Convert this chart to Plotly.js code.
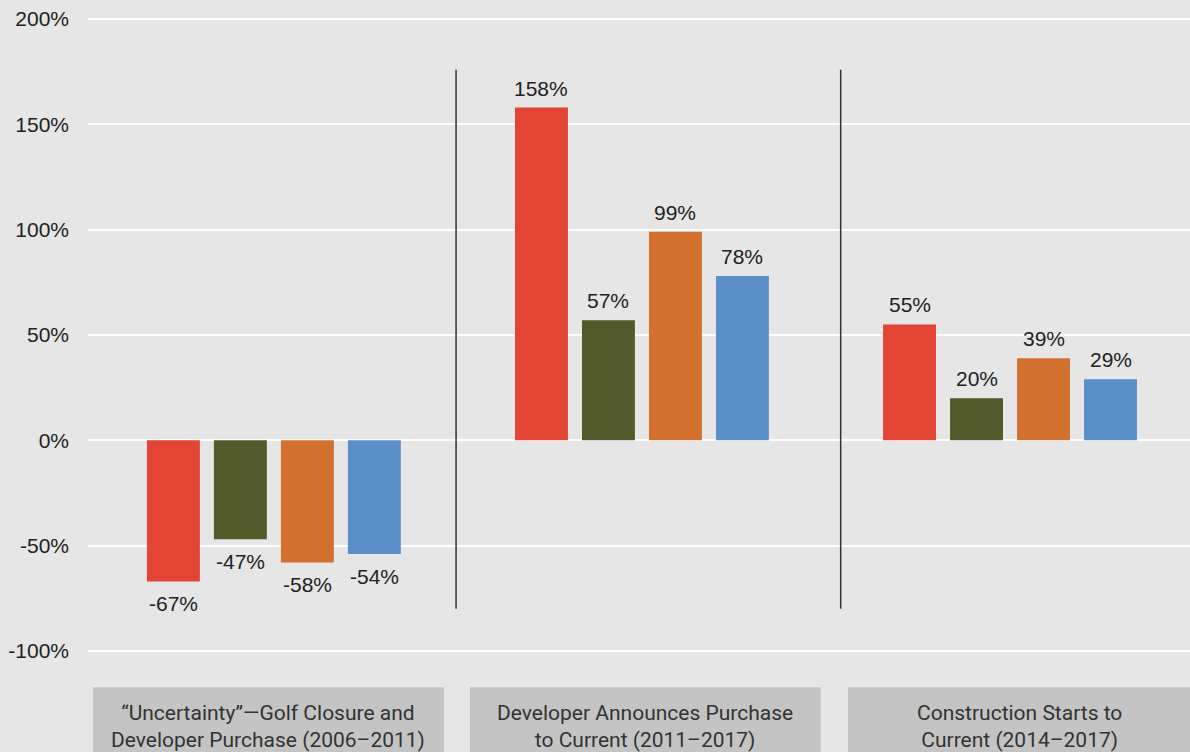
<!DOCTYPE html>
<html>
<head>
<meta charset="utf-8">
<script src="https://cdn.plot.ly/plotly-3.0.1.min.js"></script>
<style>html,body{margin:0;padding:0;background:#e6e6e6;}#chart{width:1190px;height:752px;}</style>
</head>
<body>
<div id="chart"></div>
<script>
const categories = [
  "\u201cUncertainty\u201d\u2014Golf Closure and<br>Developer Purchase (2006\u20132011)",
  "Developer Announces Purchase<br>to Current (2011\u20132017)",
  "Construction Starts to<br>Current (2014\u20132017)"
];
const seriesA = [-67, 158, 55];
const seriesB = [-47, 57, 20];
const seriesC = [-58, 99, 39];
const seriesD = [-54, 78, 29];
const tickVals = [-100, -50, 0, 50, 100, 150, 200];
const tickText = ["-100%", "-50%", "0%", "50%", "100%", "150%", "200%"];

const colors = ["#e34433", "#525a29", "#d2702f", "#5b8fca"];
const allSeries = [seriesA, seriesB, seriesC, seriesD];
const xIdx = categories.map((c, i) => i);
const bargap = 0.272;
const nSeries = allSeries.length;
const slot = (1 - bargap) / nSeries;

const traces = allSeries.map((vals, k) => ({
  type: "bar",
  x: xIdx,
  y: vals,
  marker: {color: colors[k]},
  hoverinfo: "skip",
  showlegend: false
}));

// value labels placed at each bar's position
const labelFont = {family: "Liberation Sans, Arial, sans-serif", size: 21, color: "#222"};
const annotations = [];
allSeries.forEach((vals, k) => {
  vals.forEach((v, i) => {
    annotations.push({
      xref: "x", yref: "y",
      x: i + (k - (nSeries - 1) / 2) * slot, y: v,
      text: v + "%", showarrow: false,
      xanchor: "center", yanchor: v >= 0 ? "bottom" : "top",
      yshift: v >= 0 ? 6 : -9,
      font: labelFont
    });
  });
});

// category boxes (paper coords) and separators
const boxes = [[0.0045, 0.323], [0.3466, 0.665], [0.6897, 1.0]];
const shapes = boxes.map(b => ({
  type: "rect", xref: "paper", yref: "paper",
  x0: b[0], x1: b[1], y0: -0.054, y1: -0.165,
  fillcolor: "#c4c4c4", line: {width: 0}, layer: "below"
}));
[0.334, 0.683].forEach(px => shapes.push({
  type: "line", xref: "paper", yref: "y",
  x0: px, x1: px, y0: 176, y1: -80,
  line: {color: "#333", width: 1.5}
}));

categories.forEach((c, i) => annotations.push({
  xref: "paper", yref: "paper",
  x: (boxes[i][0] + boxes[i][1]) / 2, y: -0.115,
  text: c, showarrow: false,
  xanchor: "center", yanchor: "middle",
  font: {family: "Roboto, sans-serif", size: 21, color: "#333"}
}));

const layout = {
  width: 1190, height: 752,
  paper_bgcolor: "#e6e6e6", plot_bgcolor: "#e6e6e6",
  margin: {l: 88, r: 0, t: 17, b: 99},
  barmode: "group",
  bargap: bargap,
  bargroupgap: 0.21,
  xaxis: {
    range: [-0.505, 2.489],
    showticklabels: false, showgrid: false, zeroline: false,
    showline: false, ticks: "", fixedrange: true
  },
  yaxis: {
    range: [-101, 201],
    tickvals: tickVals, ticktext: tickText,
    showgrid: true, gridcolor: "#ffffff", gridwidth: 2,
    zeroline: false, showline: false, ticks: "",
    ticklabelstandoff: 18,
    tickfont: labelFont
  },
  shapes: shapes,
  annotations: annotations
};

Plotly.newPlot("chart", traces, layout, {displayModeBar: false, staticPlot: true});
</script>
</body>
</html>
